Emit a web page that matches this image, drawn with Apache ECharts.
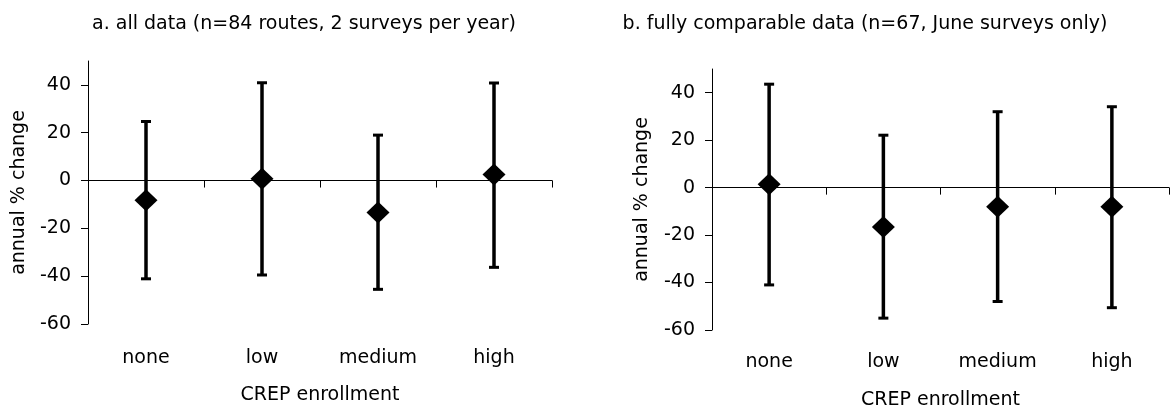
<!DOCTYPE html>
<html>
<head>
<meta charset="utf-8">
<script src="https://cdn.jsdelivr.net/npm/echarts@6/dist/echarts.min.js"></script>
<style>
  html, body { margin: 0; padding: 0; background: #fff; }
  #chart { width: 1173px; height: 411px; }
</style>
</head>
<body>
<div id="chart"></div>
<script>
// CREP enrollment classes
const categories = ['none', 'low', 'medium', 'high'];

// Panel a: all data (n=84 routes, 2 surveys per year)
const aMean = [-8.2, 0.8, -13.4, 2.5];
const aLow  = [-41.1, -39.5, -45.5, -36.3];
const aHigh = [24.7, 40.9, 19.0, 40.8];

// Panel b: fully comparable data (n=67, June surveys only)
const bMean = [1.4, -16.6, -8.1, -8.1];
const bLow  = [-41.0, -55.0, -48.0, -50.6];
const bHigh = [43.6, 22.1, 32.0, 34.1];

// Value axis ticks
const yTicks = [-60, -40, -20, 0, 20, 40];
const yMin = -60, yMax = 50, yStep = 20;

const titleA = 'a. all data (n=84 routes, 2 surveys per year)';
const titleB = 'b. fully comparable data (n=67, June surveys only)';
const xName = 'CREP enrollment';
const yName = 'annual % change';

const FONT = '"DejaVu Sans", "Liberation Sans", Arial, sans-serif';
const FS = 19;
const INK = '#000';

const chart = echarts.init(document.getElementById('chart'), null, { renderer: 'canvas' });

// vertical whisker with end caps, from low to high
function errorBar(params, api) {
  const i = api.value(0);
  const top = api.coord([i, api.value(2)]);
  const bot = api.coord([i, api.value(1)]);
  const half = 5;
  return {
    type: 'group',
    children: [
      { type: 'line', shape: { x1: top[0], y1: top[1], x2: bot[0], y2: bot[1] },
        style: { stroke: INK, lineWidth: 3.5 } },
      { type: 'line', shape: { x1: top[0] - half, y1: top[1], x2: top[0] + half, y2: top[1] },
        style: { stroke: INK, lineWidth: 3 } },
      { type: 'line', shape: { x1: bot[0] - half, y1: bot[1], x2: bot[0] + half, y2: bot[1] },
        style: { stroke: INK, lineWidth: 3 } }
    ]
  };
}

function barData(low, high) {
  return categories.map((c, i) => [i, low[i], high[i]]);
}

// two x axes per panel: one carries the labels at the bottom, the other is the zero line
function xAxesFor(gridIndex, labelMargin, nameGap) {
  return [
    {
      gridIndex, type: 'category', data: categories, position: 'bottom',
      axisLine: { show: false, onZero: false },
      axisTick: { show: false },
      axisLabel: { show: true, margin: labelMargin, color: INK, fontFamily: FONT, fontSize: FS, lineHeight: FS },
      splitLine: { show: false },
      name: xName, nameLocation: 'middle', nameGap: nameGap,
      nameTextStyle: { color: INK, fontFamily: FONT, fontSize: FS, lineHeight: FS }
    },
    {
      gridIndex, type: 'category', data: categories, position: 'top',
      boundaryGap: true,
      axisLine: { show: true, onZero: true, lineStyle: { color: INK, width: 1 } },
      axisTick: { show: true, inside: true, length: 7, lineStyle: { color: INK, width: 1 } },
      axisLabel: { show: false },
      splitLine: { show: false }
    }
  ];
}

function yAxisFor(gridIndex, nameGap) {
  return {
    gridIndex, type: 'value', min: yMin, max: yMax, interval: yStep,
    axisLine: { show: true, onZero: false, lineStyle: { color: INK, width: 1 } },
    axisTick: { show: true, length: 7, customValues: yTicks, lineStyle: { color: INK, width: 1 } },
    axisLabel: { show: true, margin: 17, customValues: yTicks, color: INK, fontFamily: FONT, fontSize: FS },
    splitLine: { show: false },
    name: yName, nameLocation: 'middle', nameGap: nameGap, nameRotate: 90,
    nameTextStyle: { color: INK, fontFamily: FONT, fontSize: FS, lineHeight: FS }
  };
}

const diamondStyle = { color: INK, opacity: 1 };

const option = {
  backgroundColor: '#fff',
  animation: false,
  grid: [
    { left: 88, right: 621, top: 61, bottom: 87, containLabel: false, outerBoundsMode: 'none' },
    { left: 712, right: 4, top: 69, bottom: 81, containLabel: false, outerBoundsMode: 'none' }
  ],
  xAxis: [].concat(xAxesFor(0, 25, 62), xAxesFor(1, 23, 61)),
  yAxis: [yAxisFor(0, 59), yAxisFor(1, 60)],
  graphic: [
    { type: 'text', x: 304, y: 24,
      style: { text: titleA, fill: INK, font: FS + 'px ' + FONT, align: 'center', verticalAlign: 'middle' } },
    { type: 'text', x: 865, y: 24,
      style: { text: titleB, fill: INK, font: FS + 'px ' + FONT, align: 'center', verticalAlign: 'middle' } }
  ],
  series: [
    { type: 'custom', xAxisIndex: 1, yAxisIndex: 0, renderItem: errorBar,
      encode: { x: 0, y: [1, 2] }, data: barData(aLow, aHigh), z: 2, silent: true },
    { type: 'scatter', xAxisIndex: 1, yAxisIndex: 0, symbol: 'diamond', symbolSize: [23, 22],
      itemStyle: diamondStyle, data: aMean, z: 3, silent: true },
    { type: 'custom', xAxisIndex: 3, yAxisIndex: 1, renderItem: errorBar,
      encode: { x: 0, y: [1, 2] }, data: barData(bLow, bHigh), z: 2, silent: true },
    { type: 'scatter', xAxisIndex: 3, yAxisIndex: 1, symbol: 'diamond', symbolSize: [23, 22],
      itemStyle: diamondStyle, data: bMean, z: 3, silent: true }
  ]
};

chart.setOption(option);
</script>
</body>
</html>
